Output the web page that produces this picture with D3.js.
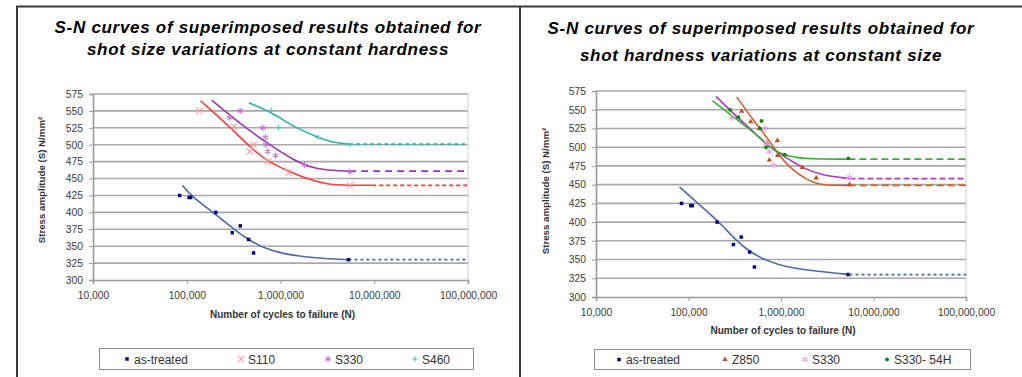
<!DOCTYPE html>
<html>
<head>
<meta charset="utf-8">
<script src="https://cdnjs.cloudflare.com/ajax/libs/d3/7.8.5/d3.min.js"></script>
<style>
body{margin:0;background:#fff;}
svg text{font-family:"Liberation Sans", Arial, sans-serif;}
</style>
</head>
<body>
<svg id="chart" width="1022" height="377"></svg>
<script>
// ticks shared by both charts
var cycleTicks = [10000, 100000, 1000000, 10000000, 100000000];
var stressTicks = [300, 325, 350, 375, 400, 425, 450, 475, 500, 525, 550, 575];

// as-treated results (same specimens plotted on both charts)
var asTreatedCycles = [84000, 106000, 110000, 204000, 306000, 372000, 457000, 516000, 5300000];
var asTreatedStress = [425, 422, 422, 400, 370, 380, 360, 340, 330];

// left chart: shot size variations
var s110Cycles = [137000, 320000, 470000, 516000, 733000, 1220000, 5500000];
var s110Stress = [550, 527, 490, 500, 475, 459, 440];
var s330Cycles = [286000, 372000, 650000, 690000, 700000, 730000, 885000, 1800000, 5500000];
var s330Stress = [540, 550, 525, 511, 500, 490, 484, 470, 460];
var s460Cycles = [800000, 950000, 2500000, 5500000];
var s460Stress = [550, 525, 511, 500];

// trend lines
var asTreatedFitCyclesL = [90000, 109000, 149000, 204000, 306000, 468000, 705000, 1020000, 2400000, 5300000];
var asTreatedFitStressL = [440, 426, 411, 397, 377, 358, 346, 339, 332, 330];
var s110FitCycles = [140000, 286000, 507000, 763000, 1250000, 2040000, 3300000, 5000000, 9500000];
var s110FitStress = [565, 527, 492, 474, 460, 448, 441, 440, 440];
var s330FitCyclesL = [185000, 286000, 507000, 828000, 1350000, 2200000, 3600000, 5400000];
var s330FitStressL = [566, 544, 517, 497, 478, 465, 462, 461];
var s460FitCycles = [460000, 828000, 1350000, 2400000, 3600000, 5400000];
var s460FitStress = [562, 547, 527, 512, 503, 501];

// right chart: shot hardness variations
var z850Cycles = [376000, 470000, 582000, 700000, 748000, 912000, 920000, 1700000, 2400000, 5500000];
var z850Stress = [548, 534, 525, 506, 483, 509, 489, 473, 459, 450];
var s330CyclesR = [293000, 671000, 700000, 740000, 826000, 5500000];
var s330StressR = [539, 525, 505, 494, 476, 460];
var s330hCycles = [281000, 345000, 593000, 616000, 690000, 1100000, 5350000];
var s330hStress = [550, 540, 525, 535, 500, 490, 485];

// trend lines
var asTreatedFitCyclesR = [80000, 126000, 207000, 313000, 474000, 920000, 2100000, 5500000];
var asTreatedFitStressR = [447, 425, 402, 378, 358, 342, 335, 330];
var z850FitCycles = [332000, 501000, 700000, 935000, 1260000, 1900000, 2640000, 3400000, 5400000];
var z850FitStress = [567, 536, 514, 490, 472, 456, 450, 449, 449];
var s330FitCyclesR = [198000, 305000, 501000, 644000, 899000, 1740000, 2870000, 5500000];
var s330FitStressR = [568, 545, 521, 507, 494, 471, 462, 458];
var s330hFitCycles = [181000, 219000, 360000, 593000, 826000, 1150000, 1740000, 2640000, 5350000];
var s330hFitStress = [562, 554, 534, 513, 496, 488, 485, 484, 484];

function zipPoints(xs, ys){
    return xs.map(function(v, i){ return [v, ys[i]]; });
}

var asTreatedStyle = {name: "as-treated", symbol: d3.symbolSquare, size: 12, filled: true, markColor: "#00007a", lineColor: "#4a6aaa", dash: "3,3"};

var leftPanel = {
    left: 93, right: 468, top: 94, bottom: 280,
    title: ["S-N curves of superimposed results obtained for", "shot size variations at constant hardness"],
    titleX: 268, titleY: [33, 55],
    yTitleX: 45, yTitleY: 180,
    xTitleY: 318,
    legend: {x: 99, y: 348, w: 374, h: 21, items: [127, 241, 328, 415]},
    series: [
        Object.assign({points: zipPoints(asTreatedCycles, asTreatedStress), fit: zipPoints(asTreatedFitCyclesL, asTreatedFitStressL)}, asTreatedStyle),
        {name: "S110", points: zipPoints(s110Cycles, s110Stress), fit: zipPoints(s110FitCycles, s110FitStress),
            symbol: d3.symbolTimes, size: 28, filled: false, markColor: "#ff9a9a", lineColor: "#ff3b3b", dash: "4,3"},
        {name: "S330", points: zipPoints(s330Cycles, s330Stress), fit: zipPoints(s330FitCyclesL, s330FitStressL),
            symbol: d3.symbolAsterisk, size: 28, filled: false, markColor: "#c277d0", lineColor: "#9a35b8", dash: "7,5"},
        {name: "S460", points: zipPoints(s460Cycles, s460Stress), fit: zipPoints(s460FitCycles, s460FitStress),
            symbol: d3.symbolPlus, size: 12, filled: false, markColor: "#4cc8c8", lineColor: "#2fb0b0", dash: "4,3"}
    ]
};

var rightPanel = {
    left: 596, right: 966, top: 91, bottom: 297,
    title: ["S-N curves of superimposed results obtained for", "shot hardness variations at constant size"],
    titleX: 761, titleY: [34, 61],
    yTitleX: 549, yTitleY: 191,
    xTitleY: 334,
    legend: {x: 594, y: 349, w: 376, h: 20, items: [619, 725, 805, 887]},
    series: [
        Object.assign({points: zipPoints(asTreatedCycles, asTreatedStress), fit: zipPoints(asTreatedFitCyclesR, asTreatedFitStressR)}, asTreatedStyle),
        {name: "Z850", points: zipPoints(z850Cycles, z850Stress), fit: zipPoints(z850FitCycles, z850FitStress),
            symbol: d3.symbolTriangle, size: 12, filled: true, markColor: "#c84a18", lineColor: "#d0602e", dash: "7,4"},
        {name: "S330", points: zipPoints(s330CyclesR, s330StressR), fit: zipPoints(s330FitCyclesR, s330FitStressR),
            symbol: d3.symbolAsterisk, size: 28, filled: false, markColor: "#ef9fef", lineColor: "#b032cc", dash: "6,3"},
        {name: "S330- 54H", points: zipPoints(s330hCycles, s330hStress), fit: zipPoints(s330hFitCycles, s330hFitStress),
            symbol: d3.symbolCircle, size: 12, filled: true, markColor: "#128a12", lineColor: "#3aac3a", dash: "7,4"}
    ]
};

function drawMarker(g, s, px, py){
    g.append("path")
        .attr("d", d3.symbol().type(s.symbol).size(s.size)())
        .attr("transform", "translate(" + px + "," + py + ")")
        .attr("fill", s.filled ? s.markColor : "none")
        .attr("stroke", s.markColor)
        .attr("stroke-width", s.filled ? 0 : 1.1);
}

function drawPanel(svg, p){
    var x = d3.scaleLog().domain([1e4, 1e8]).range([p.left, p.right]);
    var y = d3.scaleLinear().domain([300, 575]).range([p.bottom, p.top]);
    var g = svg.append("g");

    // titles (bold italic, slightly spaced like the original)
    p.title.forEach(function(line, i){
        g.append("text").attr("x", p.titleX).attr("y", p.titleY[i])
            .attr("text-anchor", "middle").attr("font-size", 17)
            .attr("font-weight", "bold").attr("font-style", "italic")
            .attr("letter-spacing", 0.7)
            .attr("fill", "#000").text(line);
    });

    // horizontal grid
    g.selectAll("line.grid").data(stressTicks.filter(function(d){ return d > 300; }))
        .enter().append("line").attr("class", "grid")
        .attr("x1", p.left).attr("x2", p.right)
        .attr("y1", function(d){ return y(d); }).attr("y2", function(d){ return y(d); })
        .attr("stroke", "#a9a9a9").attr("stroke-width", 1.6);
    // plot area right border
    g.append("line").attr("x1", p.right).attr("x2", p.right).attr("y1", p.top).attr("y2", p.bottom)
        .attr("stroke", "#cfcfd6").attr("stroke-width", 1);

    var yAxis = g.append("g").attr("transform", "translate(" + p.left + ",0)")
        .call(d3.axisLeft(y).tickValues(stressTicks).tickSize(4).tickPadding(6).tickFormat(d3.format("d")));
    var xAxis = g.append("g").attr("transform", "translate(0," + p.bottom + ")")
        .call(d3.axisBottom(x).tickValues(cycleTicks).tickSize(4).tickPadding(8).tickFormat(d3.format(",")));
    [yAxis, xAxis].forEach(function(a){
        a.selectAll("path.domain").attr("stroke", "#9a9a9a").attr("stroke-width", 1.6);
        a.selectAll(".tick line").attr("stroke", "#9a9a9a");
        a.selectAll("text").attr("font-size", 10.3).attr("fill", "#3a3a3a")
            .attr("font-family", "'Liberation Sans', Arial, sans-serif");
    });

    // axis titles
    g.append("text").attr("transform", "translate(" + p.yTitleX + "," + p.yTitleY + ") rotate(-90)")
        .attr("text-anchor", "middle").attr("font-size", 9.7).attr("font-weight", "bold")
        .attr("fill", "#333").text("Stress amplitude (S) N/mm²");
    g.append("text").attr("x", (p.left + p.right) / 2 + 2).attr("y", p.xTitleY)
        .attr("text-anchor", "middle").attr("font-size", 10).attr("font-weight", "bold")
        .attr("fill", "#333").text("Number of cycles to failure (N)");

    var line = d3.line()
        .x(function(d){ return x(d[0]); })
        .y(function(d){ return y(d[1]); })
        .curve(d3.curveBasis);

    p.series.forEach(function(s){
        // fitted curve
        g.append("path").attr("d", line(s.fit)).attr("fill", "none")
            .attr("stroke", s.lineColor).attr("stroke-width", 1.6);
        // flat run-out extension to the end of the axis
        var last = s.fit[s.fit.length - 1];
        g.append("path").attr("d", line([last, [1e8, last[1]]])).attr("fill", "none")
            .attr("stroke", s.lineColor).attr("stroke-width", 1.8).attr("stroke-dasharray", s.dash);
    });
    p.series.forEach(function(s){
        s.points.forEach(function(d){ drawMarker(g, s, x(d[0]), y(d[1])); });
    });

    // legend
    var lg = p.legend;
    g.append("rect").attr("x", lg.x + 0.5).attr("y", lg.y + 0.5).attr("width", lg.w).attr("height", lg.h)
        .attr("fill", "#fff").attr("stroke", "#8c8c8c").attr("stroke-width", 1);
    p.series.forEach(function(s, i){
        var mx = lg.items[i], my = lg.y + lg.h / 2 + 0.5;
        drawMarker(g, s, mx, my);
        g.append("text").attr("x", mx + 7).attr("y", my + 4.5)
            .attr("font-size", 12).attr("fill", "#333").text(s.name);
    });
}

var svg = d3.select("#chart");
// outer frame
svg.append("path").attr("d", "M17,377 V6.5 H1022 M520,6.5 V377")
    .attr("fill", "none").attr("stroke", "#3a3a3a").attr("stroke-width", 2);
drawPanel(svg, leftPanel);
drawPanel(svg, rightPanel);
</script>
</body>
</html>
